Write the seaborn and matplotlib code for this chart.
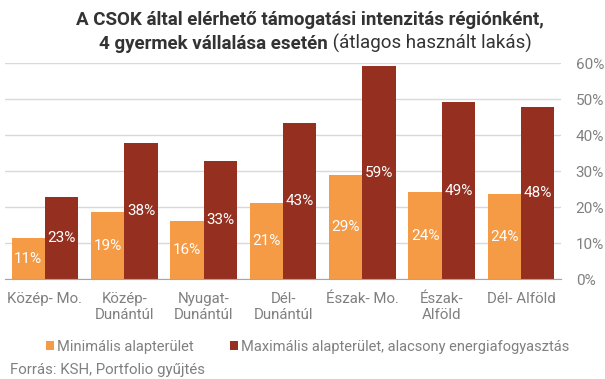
import matplotlib
matplotlib.use("Agg")
import matplotlib.pyplot as plt
import seaborn as sns
import pandas as pd

# data
regions = ["Közép- Mo.", "Közép-\nDunántúl", "Nyugat-\nDunántúl", "Dél-\nDunántúl",
           "Észak- Mo.", "Észak-\nAlföld", "Dél- Alföld"]
series_names = ["Minimális alapterület",
                "Maximális alapterület, alacsony energiafogyasztás"]
min_area = [11.4, 18.6, 16.2, 21.2, 29.0, 24.3, 23.6]
max_area = [23.0, 37.9, 32.9, 43.4, 59.3, 49.3, 47.9]
y_ticks = [0, 10, 20, 30, 40, 50, 60]

colors = ["#F59B46", "#953021"]
grey = "#808080"
dark = "#333333"

df = pd.DataFrame({
    "region": regions * 2,
    "series": [series_names[0]] * len(regions) + [series_names[1]] * len(regions),
    "value": min_area + max_area,
})

sns.set_style("white")
plt.rcParams["font.family"] = ["Roboto", "DejaVu Sans"]

fig = plt.figure(figsize=(6.05, 3.79), dpi=100)
ax = fig.add_axes([5.3 / 605, 1 - 279.3 / 379, (560.7 - 5.3) / 605, (279.3 - 63.3) / 379])

sns.barplot(data=df, x="region", y="value", hue="series", palette=colors,
            width=0.84, saturation=1, linewidth=0, ax=ax)

handles, labels = ax.get_legend_handles_labels()
ax.get_legend().remove()

for cont in ax.containers:
    ax.bar_label(cont, fmt="{:.0f}%", label_type="center", color="white", fontsize=11)

ax.set_ylim(0, 60)
ax.set_xlim(-0.5, len(regions) - 0.5)
ax.set_yticks(y_ticks)
ax.set_yticklabels([f"{t}%" for t in y_ticks])
ax.yaxis.tick_right()
ax.tick_params(axis="y", length=0, pad=10.8, labelsize=11, labelcolor=grey)
ax.tick_params(axis="x", length=0, pad=9, labelsize=10.8, labelcolor=grey)
ax.set_xlabel("")
ax.set_ylabel("")
ax.yaxis.grid(True, color="#d9d9d9", linewidth=1)
ax.set_axisbelow(True)
for s in ["top", "left", "right"]:
    ax.spines[s].set_visible(False)
ax.spines["bottom"].set_color("#a6a6a6")

# title: first line bold, second line partly bold
title_cx = 310 / 605
title_size = 13.5
fig.text(title_cx, 1 - 25 / 379, "A CSOK által elérhető támogatási intenzitás régiónként,",
         ha="center", va="baseline", fontsize=title_size, fontweight="bold", color=dark)
fig.canvas.draw()
r = fig.canvas.get_renderer()
t1 = fig.text(0, 1 - 49 / 379, "4 gyermek vállalása esetén", va="baseline",
              fontsize=title_size, fontweight="bold", color=dark)
t2 = fig.text(0, 1 - 49 / 379, " (átlagos használt lakás)", va="baseline",
              fontsize=title_size, color=dark)
w1 = t1.get_window_extent(r).width
w2 = t2.get_window_extent(r).width
x0 = 315 - (w1 + w2) / 2
t1.set_x(x0 / 605)
t2.set_x((x0 + w1) / 605)

ax.legend(handles, labels, loc="center", bbox_to_anchor=(307.5 / 605, 1 - 347 / 379),
          bbox_transform=fig.transFigure, ncol=2, frameon=False, fontsize=10.5,
          handlelength=0.55, handleheight=0.55, handletextpad=0.2, columnspacing=2.5,
          labelcolor=grey)

fig.text(10 / 605, 1 - 370 / 379, "Forrás: KSH, Portfolio gyűjtés", va="center",
         fontsize=10.8, color=grey)

fig.savefig("out.png", dpi=100)
